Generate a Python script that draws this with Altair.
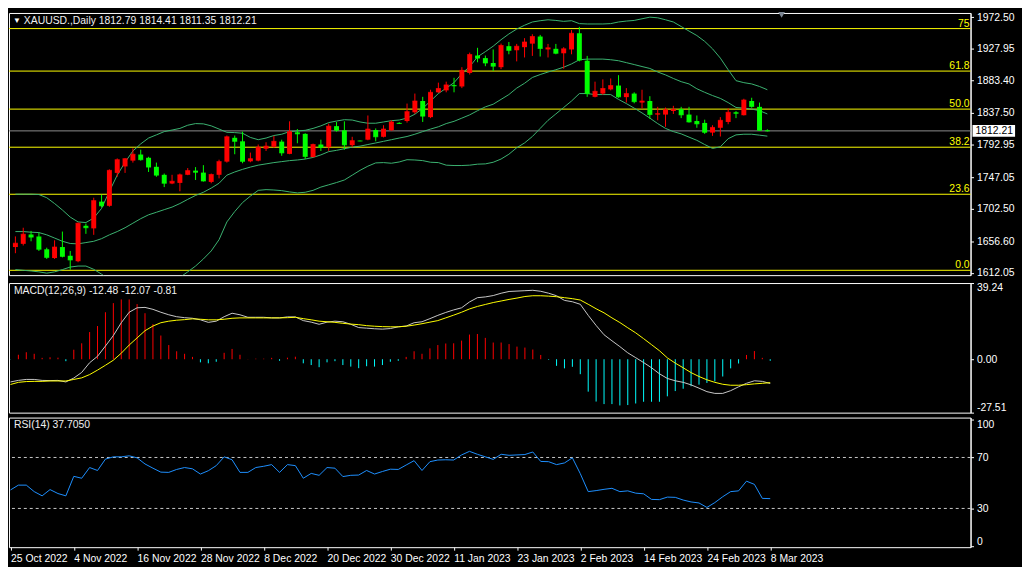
import json
import pandas as pd
import altair as alt

# ---------------- data ----------------
date_labels = ["25 Oct 2022", "4 Nov 2022", "16 Nov 2022", "28 Nov 2022", "8 Dec 2022",
               "20 Dec 2022", "30 Dec 2022", "11 Jan 2023", "23 Jan 2023", "2 Feb 2023",
               "14 Feb 2023", "24 Feb 2023", "8 Mar 2023"]

opens = [1648.5, 1653.0, 1666.2, 1663.5, 1645.3, 1633.0, 1648.5, 1636.2, 1628.5, 1678.5,
         1674.8, 1712.5, 1706.6, 1753.0, 1762.1, 1770.3, 1778.9, 1774.3, 1761.6, 1750.3,
         1738.0, 1738.9, 1750.3, 1756.2, 1753.4, 1740.3, 1750.3, 1768.9, 1802.5, 1797.5,
         1769.3, 1770.3, 1787.1, 1789.8, 1797.1, 1779.8, 1810.2, 1808.0, 1775.3, 1793.0,
         1789.3, 1818.9, 1813.0, 1792.1, 1798.2, 1799.8, 1813.4, 1803.9, 1813.0, 1823.5,
         1826.1, 1838.4, 1854.3, 1831.6, 1866.6, 1869.3, 1876.8, 1874.8, 1893.9, 1918.4,
         1914.8, 1907.9, 1902.0, 1931.6, 1925.7, 1930.2, 1935.2, 1945.2, 1927.0, 1927.9,
         1921.6, 1927.0, 1949.8, 1911.1, 1860.2, 1864.8, 1870.7, 1876.1, 1859.8, 1864.8,
         1852.1, 1854.3, 1835.2, 1835.2, 1840.2, 1843.0, 1835.2, 1826.1, 1823.4, 1809.8,
         1816.6, 1824.8, 1838.4, 1834.3, 1854.3, 1846.1, 1812.79]
highs = [1663.5, 1675.7, 1671.2, 1668.9, 1647.6, 1658.0, 1670.3, 1643.0, 1683.0, 1681.6,
         1718.0, 1722.1, 1758.0, 1773.4, 1773.9, 1787.5, 1785.7, 1775.7, 1767.5, 1752.1,
         1750.3, 1752.1, 1759.8, 1761.2, 1763.9, 1752.1, 1771.6, 1805.7, 1805.7, 1811.1,
         1781.6, 1793.0, 1796.2, 1805.2, 1799.8, 1825.7, 1814.8, 1808.9, 1794.3, 1799.8,
         1822.5, 1824.8, 1825.7, 1803.9, 1798.6, 1833.9, 1815.7, 1820.2, 1827.1, 1824.5,
         1850.7, 1864.8, 1860.2, 1870.2, 1880.2, 1881.6, 1887.0, 1902.0, 1922.5, 1929.3,
         1918.4, 1927.0, 1935.2, 1937.5, 1934.8, 1942.9, 1948.4, 1947.5, 1934.8, 1934.8,
         1930.2, 1954.3, 1958.8, 1917.9, 1881.6, 1884.8, 1886.1, 1890.7, 1872.5, 1866.6,
         1870.2, 1861.1, 1846.1, 1845.2, 1847.5, 1846.1, 1846.1, 1833.9, 1828.0, 1820.2,
         1831.6, 1843.9, 1840.0, 1857.5, 1858.9, 1852.1, 1814.41]
lows = [1639.8, 1650.7, 1656.6, 1643.0, 1631.7, 1631.7, 1633.9, 1616.5, 1627.1, 1667.1,
        1665.7, 1704.4, 1705.3, 1747.5, 1753.0, 1767.5, 1770.3, 1754.3, 1747.5, 1733.0,
        1737.1, 1727.1, 1749.8, 1743.0, 1740.7, 1738.4, 1745.3, 1767.5, 1779.3, 1766.6,
        1768.0, 1769.3, 1783.9, 1788.4, 1777.1, 1779.3, 1794.8, 1772.5, 1774.8, 1783.9,
        1783.9, 1811.1, 1785.7, 1789.3, 1797.6, 1799.0, 1797.5, 1803.0, 1812.5, 1822.0,
        1823.9, 1836.1, 1824.8, 1830.2, 1865.7, 1866.6, 1866.6, 1872.5, 1891.6, 1908.9,
        1903.4, 1896.6, 1899.3, 1920.2, 1910.2, 1915.7, 1917.9, 1917.0, 1915.7, 1920.2,
        1899.8, 1920.2, 1910.2, 1860.2, 1859.5, 1863.0, 1869.3, 1858.9, 1852.1, 1851.1,
        1843.9, 1829.3, 1827.1, 1818.0, 1836.1, 1830.2, 1823.9, 1816.6, 1808.0, 1805.2,
        1804.3, 1821.6, 1830.2, 1833.9, 1844.8, 1812.1, 1811.35]
closes = [1653.9, 1666.6, 1662.5, 1645.3, 1633.9, 1648.5, 1635.3, 1630.3, 1682.1, 1675.7,
          1713.9, 1706.6, 1756.6, 1771.6, 1773.0, 1779.3, 1771.6, 1761.2, 1749.8, 1738.4,
          1741.2, 1750.3, 1756.2, 1753.9, 1741.6, 1750.7, 1768.9, 1803.9, 1797.5, 1769.3,
          1773.0, 1789.3, 1790.7, 1797.5, 1781.2, 1811.1, 1808.0, 1776.2, 1793.0, 1788.9,
          1818.9, 1813.0, 1792.5, 1798.4, 1797.9, 1814.8, 1803.9, 1814.8, 1824.8, 1822.6,
          1839.3, 1854.3, 1833.0, 1866.6, 1872.0, 1877.0, 1875.7, 1897.5, 1919.8, 1914.8,
          1907.9, 1903.4, 1932.5, 1925.7, 1931.6, 1937.5, 1945.2, 1928.4, 1929.3, 1921.6,
          1927.9, 1949.8, 1912.0, 1864.8, 1868.0, 1872.0, 1876.1, 1860.2, 1864.8, 1853.4,
          1854.3, 1835.2, 1836.5, 1842.1, 1842.5, 1834.8, 1824.8, 1822.1, 1810.2, 1817.1,
          1827.1, 1838.4, 1837.0, 1855.7, 1846.6, 1813.0, 1812.21]

bb_upper = [1723.0, 1723.0, 1723.0, 1722.5, 1718.0, 1709.8, 1700.7, 1690.7, 1683.9, 1683.0,
            1689.4, 1703.0, 1727.1, 1749.8, 1768.0, 1783.9, 1793.9, 1802.1, 1806.6, 1811.2,
            1813.4, 1815.7, 1820.2, 1822.5, 1822.1, 1819.3, 1814.8, 1810.2, 1809.8, 1808.9,
            1803.0, 1799.8, 1802.1, 1805.7, 1807.5, 1811.2, 1812.1, 1813.0, 1815.7, 1819.3,
            1823.9, 1826.1, 1828.0, 1827.5, 1824.8, 1823.0, 1823.0, 1824.8, 1826.6, 1827.5,
            1830.2, 1835.7, 1843.9, 1854.3, 1864.8, 1872.5, 1880.2, 1892.9, 1902.9, 1916.6,
            1923.9, 1931.6, 1940.7, 1948.8, 1955.7, 1961.1, 1965.7, 1967.5, 1968.8, 1967.9,
            1966.6, 1967.5, 1963.4, 1962.9, 1962.9, 1962.9, 1963.4, 1965.7, 1967.0, 1967.9,
            1970.2, 1972.5, 1971.6, 1968.8, 1965.7, 1959.3, 1952.9, 1946.6, 1938.4, 1927.9,
            1914.8, 1898.4, 1883.0, 1880.2, 1878.4, 1874.8, 1870.2]
bb_middle = [1670.3, 1670.3, 1669.4, 1668.9, 1665.7, 1661.2, 1656.6, 1653.5, 1653.0, 1654.8,
             1656.6, 1660.3, 1665.7, 1670.3, 1675.7, 1682.1, 1688.5, 1693.9, 1697.5, 1701.2,
             1704.8, 1709.8, 1715.7, 1721.2, 1725.7, 1731.6, 1738.4, 1749.8, 1754.3, 1758.0,
             1761.2, 1763.9, 1765.7, 1767.5, 1768.9, 1770.3, 1771.2, 1772.5, 1774.8, 1778.4,
             1783.0, 1784.8, 1787.1, 1789.3, 1790.7, 1793.0, 1795.2, 1797.5, 1799.8, 1802.1,
             1804.3, 1807.5, 1811.2, 1814.8, 1818.0, 1822.5, 1825.7, 1830.2, 1834.8, 1840.7,
             1846.1, 1849.8, 1856.6, 1863.4, 1872.5, 1879.3, 1887.5, 1891.6, 1895.2, 1898.4,
             1902.0, 1906.6, 1912.5, 1913.4, 1913.4, 1913.4, 1912.5, 1911.1, 1908.4, 1905.7,
             1902.9, 1900.2, 1895.2, 1891.1, 1886.1, 1881.6, 1878.4, 1871.6, 1866.6, 1862.0,
             1858.0, 1852.1, 1845.2, 1844.3, 1843.0, 1840.7, 1836.1]
bb_lower = [1616.7, 1615.7, 1614.8, 1613.5, 1611.7, 1613.5, 1616.7, 1620.3, 1621.7, 1621.7,
            1617.1, 1610.3, 1602.1, 1590.8, 1583.5, 1580.3, 1583.0, 1585.8, 1588.5, 1591.2,
            1596.2, 1605.7, 1613.5, 1621.7, 1631.7, 1643.0, 1658.9, 1683.9, 1698.5, 1711.2,
            1720.3, 1728.4, 1729.4, 1728.9, 1728.0, 1726.2, 1724.8, 1725.7, 1728.4, 1733.0,
            1736.2, 1739.4, 1743.0, 1749.8, 1756.6, 1762.5, 1767.1, 1767.5, 1766.6, 1768.4,
            1771.6, 1771.2, 1770.3, 1768.0, 1767.5, 1763.9, 1763.4, 1763.4, 1763.9, 1765.3,
            1765.7, 1768.0, 1772.5, 1779.3, 1788.4, 1795.2, 1804.3, 1815.7, 1827.1, 1836.1,
            1845.2, 1854.3, 1864.8, 1864.8, 1863.4, 1863.4, 1863.4, 1856.6, 1850.7, 1844.3,
            1837.5, 1830.2, 1822.5, 1815.7, 1811.2, 1808.0, 1803.4, 1798.9, 1793.0, 1787.5,
            1789.8, 1801.2, 1806.6, 1807.5, 1807.5, 1806.2, 1804.8]

macd_main = [-11.7, -10.9, -10.4, -10.4, -10.9, -11.0, -10.9, -11.7, -9.7, -6.8,
             -1.8, 1.5, 6.8, 12.2, 18.8, 24.2, 26.5, 26.7, 25.7, 24.2,
             22.9, 21.9, 21.4, 21.1, 20.3, 19.0, 19.6, 21.9, 23.7, 22.9,
             21.6, 21.6, 21.6, 21.3, 21.3, 21.8, 21.8, 19.9, 19.1, 18.0,
             19.1, 19.6, 19.3, 18.0, 16.3, 16.0, 15.7, 15.5, 15.8, 16.7,
             17.1, 18.8, 19.3, 20.9, 22.6, 24.1, 25.4, 26.5, 29.5, 31.7,
             32.1, 32.8, 34.0, 34.9, 35.1, 35.3, 35.5, 35.0, 34.0, 32.7,
             30.3, 29.6, 28.3, 22.6, 17.4, 12.6, 9.5, 6.5, 3.3, 0.8,
             -1.7, -4.4, -7.5, -9.9, -11.1, -11.9, -13.2, -14.9, -16.7, -17.6,
             -17.6, -16.2, -14.2, -12.4, -11.1, -11.4, -12.48]
macd_signal = [-13.0, -11.9, -11.5, -11.4, -11.4, -11.2, -11.2, -11.2, -10.4, -9.6,
               -7.9, -5.6, -3.1, -0.5, 3.1, 7.3, 11.0, 14.7, 17.1, 18.8,
               19.6, 20.1, 20.4, 20.8, 20.6, 20.3, 20.3, 20.6, 21.1, 21.3,
               21.3, 21.3, 21.3, 21.3, 21.3, 21.4, 21.6, 20.9, 20.3, 19.6,
               19.3, 19.0, 18.5, 18.1, 17.8, 17.3, 17.0, 16.8, 16.7, 16.7,
               17.0, 17.6, 18.3, 19.1, 19.9, 21.3, 22.7, 24.2, 25.9, 27.2,
               28.2, 29.2, 30.0, 30.8, 31.5, 32.3, 32.7, 32.7, 32.5, 32.2,
               31.7, 31.2, 30.5, 28.3, 26.0, 23.9, 21.3, 18.9, 16.2, 13.6,
               10.6, 7.5, 4.4, 0.7, -2.0, -4.4, -6.9, -8.9, -10.6, -11.9,
               -12.9, -13.4, -13.4, -13.1, -12.7, -12.4, -12.07]
macd_hist = [-0.1, 2.3, 3.6, 2.8, 0.7, 1.0, 0.8, -1.0, 4.9, 8.2,
             14.0, 17.1, 24.2, 28.9, 30.8, 30.8, 28.4, 23.7, 18.1, 12.2,
             7.3, 4.1, 2.8, 1.2, -1.6, -2.1, -1.3, 3.3, 5.3, 2.3,
             0.1, 0.3, 0.3, 0.7, -0.8, 0.8, 1.3, -2.1, -3.0, -4.1,
             -1.6, -1.0, -3.0, -3.8, -4.6, -3.6, -3.8, -3.0, -1.3, -0.8,
             1.2, 4.1, 2.8, 5.6, 7.3, 8.1, 8.2, 9.6, 12.7, 13.0,
             11.0, 8.6, 8.6, 7.8, 6.5, 6.0, 5.0, 2.2, -0.3, -3.4,
             -4.7, -3.9, -7.7, -16.7, -21.8, -23.1, -23.1, -23.8, -23.6, -22.8,
             -21.9, -21.9, -21.9, -19.1, -16.4, -15.2, -13.9, -13.1, -12.2, -11.4,
             -8.9, -4.7, -2.2, 2.2, 4.2, 0.7, -0.81]
rsi_values = [44.5, 48.3, 48.3, 43.2, 39.9, 44.8, 41.7, 39.9, 55.2, 53.7,
              62.1, 59.8, 68.7, 70.5, 70.5, 71.3, 69.7, 64.9, 61.6, 58.5,
              58.3, 60.6, 62.1, 61.1, 57.0, 59.6, 63.6, 70.5, 68.2, 58.3,
              58.3, 62.1, 63.1, 64.4, 58.3, 64.4, 63.6, 53.7, 57.5, 56.0,
              62.1, 61.6, 55.0, 56.0, 56.2, 59.8, 57.0, 59.0, 60.8, 60.6,
              64.1, 67.5, 59.8, 66.7, 68.0, 68.2, 68.0, 72.0, 74.8, 72.5,
              70.5, 68.5, 72.5, 71.7, 72.0, 72.3, 74.3, 66.9, 66.7, 64.4,
              65.7, 69.7, 57.3, 43.2, 44.0, 45.0, 45.8, 43.2, 43.8, 42.0,
              41.5, 37.1, 36.9, 38.9, 38.7, 36.6, 35.1, 34.3, 30.8, 34.6,
              39.2, 43.2, 43.8, 51.4, 48.9, 37.9, 37.7]

fib_labels = ["0.0", "23.6", "38.2", "50.0", "61.8", "75"]
fib_prices = [1615.7, 1722.9, 1789.2, 1842.9, 1896.5, 1956.4]
price_ticks = [1612.05, 1656.60, 1702.50, 1747.05, 1792.95, 1837.50, 1883.40, 1927.95, 1972.50]
macd_ticks = [-27.51, 0.0, 39.24]
rsi_ticks = [0, 30, 70, 100]
rsi_levels = [30, 70]
last_price = 1812.21
last_price_text = "1812.21"
header_main = "XAUUSD.,Daily  1812.79 1814.41 1811.35 1812.21"
header_macd = "MACD(12,26,9) -12.48 -12.07 -0.81"
header_rsi = "RSI(14) 37.7050"

# ---------------- tables ----------------
n = len(closes)
bars = pd.DataFrame({"i": list(range(n)), "o": opens, "h": highs, "l": lows, "c": closes,
                     "bbU": bb_upper, "bbM": bb_middle, "bbL": bb_lower})
ind = pd.DataFrame({"i": list(range(n)), "macd": macd_main, "signal": macd_signal,
                    "hist": macd_hist, "rsi": rsi_values, "zero": [0.0] * n})
fib_df = pd.DataFrame({"price": fib_prices, "label": fib_labels})
last_df = pd.DataFrame({"price": [last_price], "t": [last_price_text]})

# ---------------- layout ----------------
W = 972
H_MAIN, H_MACD, H_RSI = 265, 131, 131
FONT = "Liberation Sans"
FS = 10.5
WHITE = "#ffffff"

# 8 px per bar, bars centred on half pixels so 1px rules are crisp
xs = alt.Scale(domain=[-0.1875, 121.3125], nice=False, zero=False)
tick_idx = list(range(0, 8 * len(date_labels), 8))
x_axis = alt.Axis(values=tick_idx, labelExpr=json.dumps(date_labels) + "[round(datum.value / 8)]",
                  labelAlign="left", labelPadding=3, tickSize=3, tickColor=WHITE, domain=False,
                  grid=False, title=None, labelColor=WHITE, labelFont=FONT, labelFontSize=FS,
                  labelOverlap=False, labelFlush=False, labelBound=False)


def X(field, axis=None):
    return alt.X(field, type="quantitative", scale=xs, axis=axis)


neg_fmt = "datum.value < 0 ? '-' + format(-datum.value, '.2f') : format(datum.value, '.2f')"

ys_main = alt.Scale(domain=[1608.9, 1978.4], nice=False, zero=False)
ax_main = alt.Axis(orient="right", values=price_ticks, format=".2f", title=None, grid=False,
                   labelColor=WHITE, tickColor=WHITE, domainColor=WHITE, tickSize=3, labelPadding=3,
                   labelFont=FONT, labelFontSize=FS)
ys_macd = alt.Scale(domain=[-27.51, 39.24], nice=False, zero=False)
ax_macd = alt.Axis(orient="right", values=macd_ticks, labelExpr=neg_fmt, title=None, grid=False,
                   labelColor=WHITE, tickColor=WHITE, domainColor=WHITE, tickSize=3, labelPadding=3,
                   labelFont=FONT, labelFontSize=FS, labelFlush=4)
ys_rsi = alt.Scale(domain=[-0.4, 101.3], nice=False, zero=False)
ax_rsi = alt.Axis(orient="right", values=rsi_ticks, format="d", title=None, grid=False,
                  labelColor=WHITE, tickColor=WHITE, domainColor=WHITE, tickSize=3, labelPadding=3,
                  labelFont=FONT, labelFontSize=FS, labelFlush=4)


def YM(field):
    return alt.Y(field, type="quantitative", scale=ys_main, axis=ax_main)


def YA(field):
    return alt.Y(field, type="quantitative", scale=ys_macd, axis=ax_macd)


def YR(field):
    return alt.Y(field, type="quantitative", scale=ys_rsi, axis=ax_rsi)


def header(text, x, y):
    return alt.Chart(pd.DataFrame({"t": [text]})).mark_text(
        align="left", baseline="middle", color="#f0f0f0", font=FONT, fontSize=FS
    ).encode(x=alt.value(x), y=alt.value(y), text="t:N")


# ---------------- main price panel ----------------
fib_rules = alt.Chart(fib_df).mark_rule(color="#ffff00", strokeWidth=1).encode(y=YM("price"))
fib_text = alt.Chart(fib_df).mark_text(
    align="right", baseline="alphabetic", dy=-2, color="#ffff00", font=FONT, fontSize=FS
).encode(x=alt.value(W - 1), y=YM("price"), text="label:N")
last_rule = alt.Chart(last_df).mark_rule(color="#8c8c8c", strokeWidth=1).encode(y=YM("price"))
bands = alt.Chart(bars).transform_fold(["bbU", "bbM", "bbL"], as_=["band", "val"]).mark_line(
    color="#3cb371", strokeWidth=1, clip=True
).encode(x=X("i"), y=YM("val"), detail="band:N")

up = alt.Chart(bars).transform_filter("datum.c >= datum.o")
down = alt.Chart(bars).transform_filter("datum.c < datum.o")
RED, GREEN = "#ff0000", "#00ff00"
wick_up = up.mark_rule(color=RED, strokeWidth=1).encode(x=X("i"), y=YM("l"), y2="h")
wick_dn = down.mark_rule(color=GREEN, strokeWidth=1).encode(x=X("i"), y=YM("l"), y2="h")
body_up = up.mark_bar(color=RED, size=5).encode(x=X("i"), y=YM("o"), y2="c")
body_dn = down.mark_bar(color=GREEN, size=5).encode(x=X("i"), y=YM("o"), y2="c")
doji_up = up.mark_tick(color=RED, orient="horizontal", size=5, thickness=1).encode(x=X("i"), y=YM("c"))
doji_dn = down.mark_tick(color=GREEN, orient="horizontal", size=5, thickness=1).encode(x=X("i"), y=YM("c"))

price_box = alt.Chart(last_df).mark_rule(color=WHITE, strokeWidth=12).encode(
    x=alt.value(W + 2), x2=alt.value(W + 45), y=YM("price"))
price_box_text = alt.Chart(last_df).mark_text(
    align="left", baseline="middle", color="#000000", font=FONT, fontSize=FS
).encode(x=alt.value(W + 5), y=YM("price"), text="t:N")
arrow = alt.Chart(pd.DataFrame({"t": ["\u25bc"]})).mark_text(
    align="left", baseline="middle", color=WHITE, fontSize=8
).encode(x=alt.value(4), y=alt.value(8), text="t:N")
shift_marker = alt.Chart(pd.DataFrame({"t": ["s"]})).mark_point(
    shape="triangle-down", filled=True, color="#7d8794", size=45, opacity=1
).encode(x=alt.value(781), y=alt.value(2))

main = alt.layer(
    fib_rules, fib_text, last_rule, bands, wick_up, wick_dn, body_up, body_dn, doji_up, doji_dn,
    price_box, price_box_text, arrow, header(header_main, 15, 8), shift_marker
).properties(width=W, height=H_MAIN)

# ---------------- MACD panel ----------------
ind_c = alt.Chart(ind)
hist_pos = ind_c.transform_filter("datum.hist >= 0").mark_rule(color="#ff0000", strokeWidth=1).encode(
    x=X("i"), y=YA("zero"), y2="hist")
hist_neg = ind_c.transform_filter("datum.hist < 0").mark_rule(color="#00ffff", strokeWidth=1).encode(
    x=X("i"), y=YA("zero"), y2="hist")
macd_line = ind_c.mark_line(color="#c8c8c8", strokeWidth=1).encode(x=X("i"), y=YA("macd"))
signal_line = ind_c.mark_line(color="#ffff00", strokeWidth=1).encode(x=X("i"), y=YA("signal"))
macd_panel = alt.layer(hist_pos, hist_neg, macd_line, signal_line, header(header_macd, 5, 8)).properties(
    width=W, height=H_MACD)

# ---------------- RSI panel ----------------
lvl = alt.Chart(pd.DataFrame({"v": rsi_levels})).mark_rule(
    color="#c8c8c8", strokeWidth=1, strokeDash=[3, 3]).encode(y=YR("v"))
rsi_line = ind_c.mark_line(color="#1e90ff", strokeWidth=1).encode(x=X("i", x_axis), y=YR("rsi"))
rsi_panel = alt.layer(lvl, rsi_line, header(header_rsi, 5, 8)).properties(width=W, height=H_RSI)

chart = alt.vconcat(main, macd_panel, rsi_panel, spacing=3, padding=0, background="#000000").configure_view(
    stroke=WHITE, strokeWidth=1, fill="#000000")

chart.save("out.html", embed_options={"renderer": "svg", "actions": False})
